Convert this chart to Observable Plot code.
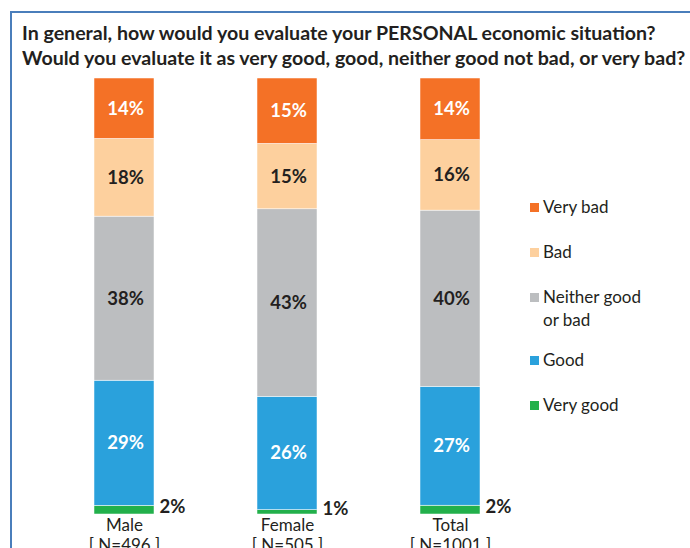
<!DOCTYPE html>
<html>
<head>
<meta charset="utf-8">
<script src="https://cdn.jsdelivr.net/npm/d3@7"></script>
<script src="https://cdn.jsdelivr.net/npm/@observablehq/plot@0.6"></script>
<style>
  html, body { margin: 0; padding: 0; background: #fff; }
  #wrap { position: relative; width: 690px; height: 548px; overflow: hidden; font-family: Lato, "Open Sans", sans-serif; color: #231f20; }
  #frame { position: absolute; left: 10px; top: 11px; width: 700px; height: 560px; border-top: 2px solid #4a7ebb; border-left: 2px solid #4a7ebb; box-sizing: border-box; }
  #title { position: relative; height: 70px; box-sizing: border-box; padding: 20px 0 0 22px; font-weight: bold; font-size: 19.6px; line-height: 25px; white-space: nowrap; }
  #chart { position: relative; }
  #legend { position: absolute; left: 530px; top: 195px; font-size: 17px; line-height: 23px; }
  .item { position: relative; padding-left: 13px; margin-bottom: 22px; }
  .item.two { margin-bottom: 17px; }
  .sw { position: absolute; left: 0; top: 8px; width: 9px; height: 9px; }
</style>
</head>
<body>
<div id="wrap">
  <div id="frame"></div>
  <div id="title">In general, how would you evaluate your PERSONAL economic situation?<br>Would you evaluate it as very good, good, neither good not bad, or very bad?</div>
  <div id="chart"></div>
  <div id="legend"></div>
</div>
<script>
const groups = ["Male", "Female", "Total"];
const nLabels = ["[ N=496 ]", "[ N=505 ]", "[ N=1001 ]"];
const categories = ["Very good", "Good", "Neither good or bad", "Bad", "Very bad"];
const legendLabels = ["Very bad", "Bad", "Neither good\nor bad", "Good", "Very good"];
const colors = ["#22b04b", "#2aa1dc", "#bcbec0", "#fdd09e", "#f47126"];
const veryGood = [2, 1, 2];
const good = [29, 26, 27];
const neither = [38, 43, 40];
const bad = [18, 15, 16];
const veryBad = [14, 15, 14];

const series = [veryGood, good, neither, bad, veryBad];
const data = [];
groups.forEach((g, i) => {
  categories.forEach((c, j) => data.push({group: g, cat: c, value: series[j][i]}));
});

const stackOpts = (extra) => Plot.stackY({x: "group", y: "value", z: "cat", order: categories, offset: "normalize", ...extra});

const whiteCats = ["Very bad", "Good"];
const darkCats = ["Bad", "Neither good or bad"];

const chart = Plot.plot({
  width: 690,
  height: 478,
  marginTop: 8,
  marginBottom: 34,
  marginLeft: 61,
  marginRight: 177,
  style: {fontFamily: "Lato, 'Open Sans', sans-serif", color: "#231f20"},
  x: {domain: groups, paddingInner: 0.632, paddingOuter: 0.2, label: null},
  y: {domain: [0, 1], axis: null},
  color: {domain: categories, range: colors},
  marks: [
    Plot.barY(data, stackOpts({fill: "cat", stroke: "#fff", strokeWidth: 0.5})),
    Plot.text(data, stackOpts({text: d => whiteCats.includes(d.cat) ? d.value + "%" : null, fill: "#fff", fontSize: 18.5, fontWeight: "bold", dx: 1})),
    Plot.text(data, stackOpts({text: d => darkCats.includes(d.cat) ? d.value + "%" : null, fill: "#231f20", fontSize: 18.5, fontWeight: "bold", dx: 1})),
    Plot.text(data, stackOpts({text: d => d.cat === "Very good" ? d.value + "%" : null, fill: "#231f20", fontSize: 18.5, fontWeight: "bold", textAnchor: "start", dx: 35, dy: -3})),
    Plot.axisX({
      tickSize: 0,
      tickPadding: 3,
      fontSize: 17,
      lineHeight: 1.15,
      tickFormat: (d) => d + "\n" + nLabels[groups.indexOf(d)],
      label: null
    })
  ]
});
document.getElementById("chart").appendChild(chart);

const legend = document.getElementById("legend");
legendLabels.forEach((lab, k) => {
  const cat = categories[categories.length - 1 - k];
  const col = colors[categories.indexOf(cat)];
  const item = document.createElement("div");
  item.className = "item" + (lab.includes("\n") ? " two" : "");
  const sw = document.createElement("span");
  sw.className = "sw";
  sw.style.background = col;
  item.appendChild(sw);
  lab.split("\n").forEach((line, li) => {
    if (li) item.appendChild(document.createElement("br"));
    item.appendChild(document.createTextNode(line));
  });
  legend.appendChild(item);
});
</script>
</body>
</html>
